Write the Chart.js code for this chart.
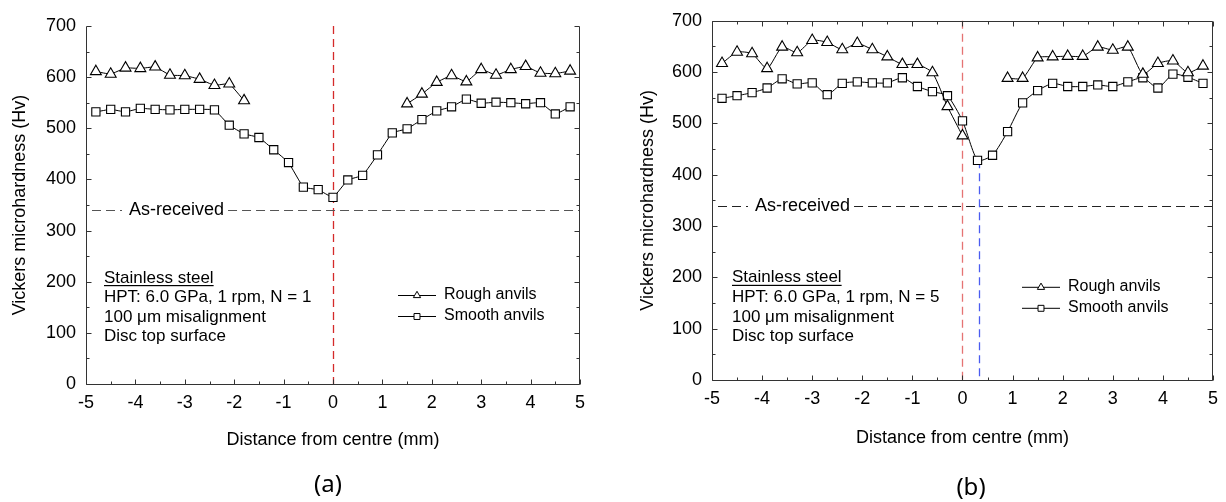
<!DOCTYPE html>
<html>
<head>
<meta charset="utf-8">
<script src="https://cdn.jsdelivr.net/npm/chart.js@4.4.1/dist/chart.umd.min.js"></script>
<style>
  body { margin: 0; background: #fff; width: 1226px; height: 502px; overflow: hidden; position: relative; }
  .box { position: absolute; top: 0; width: 613px; height: 502px; }
</style>
</head>
<body>
<div class="box" style="left:0"><canvas id="chartA" width="613" height="502"></canvas></div>
<div class="box" style="left:613px"><canvas id="chartB" width="613" height="502"></canvas></div>
<script>
// distance from centre (mm), same measuring grid for every series
const positions = [-4.8, -4.5, -4.2, -3.9, -3.6, -3.3, -3.0, -2.7, -2.4, -2.1, -1.8,
                   -1.5, -1.2, -0.9, -0.6, -0.3, 0, 0.3, 0.6, 0.9, 1.2, 1.5,
                   1.8, 2.1, 2.4, 2.7, 3.0, 3.3, 3.6, 3.9, 4.2, 4.5, 4.8];

// (a) N = 1
const roughA = [611, 606, 618, 617, 620, 604, 603, 596, 584, 587, 554,
                null, null, null, null, null, null, null, null, null, null,
                548, 567, 590, 603, 591, 615, 604, 615, 621, 608, 607, 612];
const smoothA = [532, 537, 532, 539, 537, 536, 537, 537, 536, 506, 489,
                 482, 458, 433, 385, 380, 365, 399, 408, 448, 491, 499,
                 517, 534, 542, 557, 549, 551, 550, 548, 550, 528, 542];

// (b) N = 5
const roughB = [617, 639, 636, 607, 649, 638, 662, 658, 644, 656, 644,
                630, 615, 615, 599, 533, 476, null, null, 588, 588, 628,
                630, 631, 631, 649, 643, 649, 596, 617, 622, 599, 612];
const smoothB = [549, 554, 560, 569, 587, 577, 579, 556, 578, 581, 579,
                 579, 589, 572, 562, 554, 505, 428, 438, 484, 540, 564,
                 578, 572, 572, 575, 572, 581, 589, 569, 596, 590, 578];

const asReceived = 340;
const minimumB = 0.33;   // position of the hardness minimum in (b)

const xTicks = [-5, -4, -3, -2, -1, 0, 1, 2, 3, 4, 5];
const yTicks = [0, 100, 200, 300, 400, 500, 600, 700];

const FONT = '"Liberation Sans", Arial, sans-serif';

function pts(vals) {
  return positions.map((x, i) => ({ x: x, y: vals[i] }));
}

function drawMarker(ctx, kind, cx, cy, r) {
  ctx.beginPath();
  if (kind === 'triangle') {
    ctx.moveTo(cx, cy - r);
    ctx.lineTo(cx + r * 0.866, cy + r * 0.5);
    ctx.lineTo(cx - r * 0.866, cy + r * 0.5);
    ctx.closePath();
  } else {
    ctx.rect(cx - r * 0.707, cy - r * 0.707, r * 1.414, r * 1.414);
  }
  ctx.fillStyle = '#fff';
  ctx.fill();
  ctx.stroke();
}

const decor = {
  id: 'decor',
  beforeDatasetsDraw(chart, args, o) {
    const { ctx, chartArea: a, scales: { x, y } } = chart;
    ctx.save();
    // vertical reference lines
    o.vlines.forEach(v => {
      const px = Math.round(x.getPixelForValue(v.x)) + 0.5;
      const top = v.fromY == null ? a.top : y.getPixelForValue(v.fromY);
      ctx.strokeStyle = v.color;
      ctx.lineWidth = 1.3;
      ctx.setLineDash([8, 5]);
      ctx.beginPath();
      ctx.moveTo(px, top);
      ctx.lineTo(px, a.bottom);
      ctx.stroke();
    });
    // as-received level with its label
    const py = Math.round(y.getPixelForValue(asReceived)) + 0.5;
    ctx.font = '18px ' + FONT;
    const tx = a.left + 43;
    const tw = ctx.measureText('As-received').width;
    ctx.strokeStyle = o.refColor;
    ctx.lineWidth = 1;
    ctx.setLineDash([9, 5]);
    ctx.beginPath();
    ctx.moveTo(a.left + 6, py);
    ctx.lineTo(tx - 7, py);
    ctx.moveTo(tx + tw + 4, py);
    ctx.lineTo(a.right, py);
    ctx.stroke();
    ctx.setLineDash([]);
    ctx.fillStyle = '#000';
    ctx.textBaseline = 'middle';
    ctx.fillText('As-received', tx, py);
    ctx.restore();
  },
  afterDraw(chart, args, o) {
    const { ctx, chartArea: a, scales: { x, y } } = chart;
    ctx.save();
    ctx.strokeStyle = '#333';
    ctx.lineWidth = 1;
    const L = Math.round(a.left) + 0.5, R = Math.round(a.right) - 0.5;
    const T = Math.round(a.top) + 0.5, B = Math.round(a.bottom) + 0.5;
    ctx.beginPath();
    ctx.moveTo(L, T); ctx.lineTo(L, B); ctx.lineTo(R, B); ctx.lineTo(R, T);
    if (o.frameTop) ctx.lineTo(L, T);
    ctx.stroke();
    // inward ticks
    ctx.beginPath();
    for (let v = 0; v <= 700; v += 50) {
      const py = Math.round(y.getPixelForValue(v)) + 0.5;
      const len = v % 100 === 0 ? 5 : 3;
      ctx.moveTo(L, py); ctx.lineTo(L + len, py);
      ctx.moveTo(R, py); ctx.lineTo(R - len, py);
    }
    for (let v = -5; v <= 5; v += 0.5) {
      const px = Math.round(x.getPixelForValue(v)) + 0.5;
      const len = Number.isInteger(v) ? 5 : 3;
      ctx.moveTo(px, B); ctx.lineTo(px, B - len);
      if (o.frameTop) { ctx.moveTo(px, T); ctx.lineTo(px, T + len); }
    }
    ctx.stroke();

    // sample description
    ctx.fillStyle = '#000';
    ctx.textBaseline = 'middle';
    ctx.font = '17px ' + FONT;
    o.notes.forEach((t, i) => {
      const nx = a.left + o.noteX, ny = a.top + o.noteY + i * 19.6;
      ctx.fillText(t, nx, ny);
      if (i === 0) {
        const w = ctx.measureText(t).width;
        ctx.fillRect(nx, ny + 7, w, 1.2);
      }
    });

    // legend
    ctx.font = '16px ' + FONT;
    ctx.lineWidth = 1;
    ctx.strokeStyle = '#000';
    ['Rough anvils', 'Smooth anvils'].forEach((t, i) => {
      const lx = a.left + o.legX, ly = a.top + o.legY + i * 21;
      ctx.beginPath();
      ctx.moveTo(lx, ly + 0.5); ctx.lineTo(lx + 38, ly + 0.5);
      ctx.stroke();
      drawMarker(ctx, i === 0 ? 'triangle' : 'rect', lx + 19, ly + 0.5, 4.2);
      ctx.fillStyle = '#000';
      ctx.fillText(t, lx + 46, ly);
    });

    // panel label
    ctx.font = '24px "Noto Sans", "Open Sans", sans-serif';
    ctx.textAlign = 'center';
    ctx.fillText(o.panel, o.panelX, o.panelY);
    ctx.restore();
  }
};

function makeChart(id, rough, smooth, o) {
  return new Chart(document.getElementById(id), {
    type: 'line',
    data: {
      datasets: [
        { data: pts(rough), borderColor: '#000', borderWidth: 1, tension: o.tension,
          pointStyle: 'triangle', pointRadius: 6.3, pointBackgroundColor: '#fff',
          pointBorderColor: '#000', pointBorderWidth: 1.1 },
        { data: pts(smooth), borderColor: '#000', borderWidth: 1, tension: o.tension,
          pointStyle: 'rect', pointRadius: 5.8, pointBackgroundColor: '#fff',
          pointBorderColor: '#000', pointBorderWidth: 1.1 }
      ]
    },
    options: {
      responsive: false,
      animation: false,
      devicePixelRatio: 1,
      layout: { padding: { left: 0, right: o.padRight, top: o.top, bottom: o.padBottom } },
      plugins: {
        legend: { display: false },
        tooltip: { enabled: false },
        decor: o.decor
      },
      scales: {
        x: {
          type: 'linear', min: -5, max: 5,
          afterBuildTicks: s => { s.ticks = xTicks.map(v => ({ value: v })); },
          ticks: { font: { family: FONT, size: 18 }, color: '#000', padding: 8, maxRotation: 0, autoSkip: false },
          grid: { display: false, drawTicks: false },
          border: { display: false },
          title: { display: true, text: 'Distance from centre (mm)', color: '#000',
                   font: { family: FONT, size: 18 }, padding: { top: 0, bottom: o.xTitlePad } },
          afterFit: s => { s.height = 70; }
        },
        y: {
          min: 0, max: 700,
          afterBuildTicks: s => { s.ticks = yTicks.map(v => ({ value: v })); },
          ticks: { font: { family: FONT, size: 18 }, color: '#000', padding: 10 },
          grid: { display: false, drawTicks: false },
          border: { display: false },
          title: { display: true, text: 'Vickers microhardness (Hv)', color: '#000',
                   font: { family: FONT, size: 18 }, padding: { top: o.yTitlePad, bottom: 0 } },
          afterFit: s => { s.width = o.yWidth; }
        }
      }
    },
    plugins: [decor]
  });
}

makeChart('chartA', roughA, smoothA, {
  tension: 0.1, padRight: 33, top: 26, padBottom: 48, yWidth: 86, yTitlePad: 9, xTitlePad: 3,
  decor: {
    frameTop: false, refColor: '#555',
    vlines: [{ x: 0, fromY: null, color: '#d42a2a' }],
    notes: ['Stainless steel', 'HPT: 6.0 GPa, 1 rpm, N = 1', '100 \u03bcm misalignment', 'Disc top surface'],
    noteX: 18, noteY: 252, legX: 312, legY: 269,
    panel: '(a)', panelX: 328, panelY: 485
  }
});

makeChart('chartB', roughB, smoothB, {
  tension: 0.2, padRight: 10, top: 16, padBottom: 52, yWidth: 99, yTitlePad: 24, xTitlePad: 1,
  decor: {
    frameTop: true, refColor: '#222',
    vlines: [{ x: 0, fromY: null, color: '#e57373' }, { x: minimumB, fromY: 428, color: '#4a5cf0' }],
    notes: ['Stainless steel', 'HPT: 6.0 GPa, 1 rpm, N = 5', '100 \u03bcm misalignment', 'Disc top surface'],
    noteX: 20, noteY: 257, legX: 310, legY: 266,
    panel: '(b)', panelX: 358, panelY: 488
  }
});
</script>
</body>
</html>
